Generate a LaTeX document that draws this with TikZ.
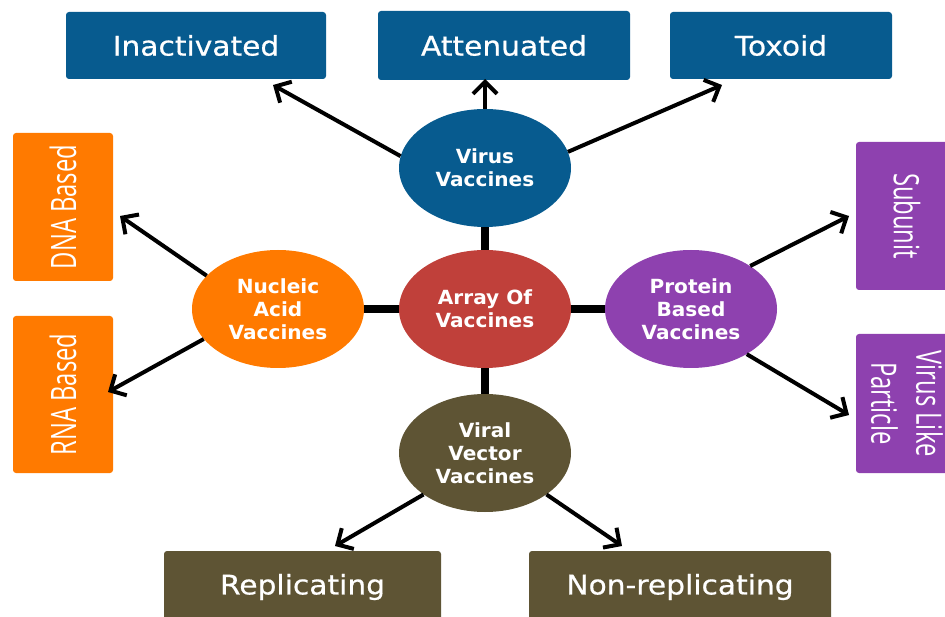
\documentclass[tikz,border=0pt]{standalone}
\usepackage{fontspec}
\setmainfont{DejaVu Sans}
\newfontfamily\boxfont[FakeStretch=1.1,FakeBold=0.6]{DejaVu Sans}
\newfontfamily\ellfont[FakeStretch=1.03]{DejaVu Sans}
\newfontfamily\rotfont[FakeStretch=0.68]{Open Sans}
\usetikzlibrary{shapes.geometric,arrows.meta}
\definecolor{vblue}{RGB}{7,91,143}
\definecolor{vorange}{RGB}{255,122,0}
\definecolor{vred}{RGB}{192,64,58}
\definecolor{vpurple}{RGB}{142,65,175}
\definecolor{volive}{RGB}{94,84,52}
\begin{document}
\begin{tikzpicture}[x=1pt,y=-1pt,
  rbox/.style={rounded corners=3pt, inner sep=0pt, text=white, align=center},
  hbox/.style={rbox, font=\boxfont\fontsize{27}{32}\selectfont},
  vbox/.style={rbox, font=\rotfont\fontsize{35}{45}\selectfont},
  ell/.style={ellipse, minimum width=172pt, minimum height=118pt, inner sep=0pt,
    text=white, align=center, font=\ellfont\bfseries\fontsize{19.5}{23}\selectfont},
  arr/.style={line width=4pt, -{Straight Barb[length=12pt,width=24pt]}},
  link/.style={line width=8pt}]
\useasboundingbox (0,0) rectangle (945,617);

% top boxes
\node[hbox, fill=vblue, minimum width=260pt, minimum height=67pt] (inact) at (196,45.5) {Inactivated};
\node[hbox, fill=vblue, minimum width=252pt, minimum height=69pt] (atten) at (504,45.5) {Attenuated};
\node[hbox, fill=vblue, minimum width=222pt, minimum height=67pt] (toxoid) at (781,45.5) {Toxoid};
% left boxes
\node[vbox, fill=vorange, rotate=90, minimum width=148pt, minimum height=100pt] (dna) at (63,207) {DNA Based};
\node[vbox, fill=vorange, rotate=90, minimum width=157pt, minimum height=100pt] (rna) at (63,394.5) {RNA Based};
% right boxes
\node[vbox, fill=vpurple, rotate=-90, minimum width=148pt, minimum height=102pt] (subunit) at (907,216) {Subunit};
\node[vbox, fill=vpurple, rotate=-90, minimum width=139pt, minimum height=102pt] (vlp) at (907,403.5) {Virus Like\\Particle};
% bottom boxes
\node[hbox, fill=volive, minimum width=277pt, minimum height=72pt] (repl) at (302.5,587) {Replicating};
\node[hbox, fill=volive, minimum width=302pt, minimum height=72pt] (nonrepl) at (680,587) {Non-replicating};

% ellipses
\node[ell, fill=vblue] (virus) at (485,168) {Virus\\Vaccines};
\node[ell, fill=vred] (array) at (485,309) {Array Of\\Vaccines};
\node[ell, fill=vorange] (nucleic) at (278,309) {Nucleic\\Acid\\Vaccines};
\node[ell, fill=vpurple] (protein) at (691,309) {Protein\\Based\\Vaccines};
\node[ell, fill=volive] (viral) at (485,453) {Viral\\Vector\\Vaccines};

% links
\draw[link] (array.north) -- (virus.south);
\draw[link] (array.west) -- (nucleic.east);
\draw[link] (array.east) -- (protein.west);
\draw[link] (array.south) -- (viral.north);

% arrow tips
\coordinate (tInact) at (273,85);
\coordinate (tAtten) at (485,79);
\coordinate (tToxoid) at (722,85);
\coordinate (tDna) at (120,216);
\coordinate (tRna) at (108,392);
\coordinate (tSub) at (849,216);
\coordinate (tVlp) at (849,415);
\coordinate (tRepl) at (335,546);
\coordinate (tNon) at (622,546);

\draw[arr] (virus.172) -- (tInact);
\draw[arr] (virus.north) -- (tAtten);
\draw[arr] (virus.11) -- (tToxoid);
\draw[arr] (nucleic.155) -- (tDna);
\draw[arr] (nucleic.202) -- (tRna);
\draw[arr] (protein.36) -- (tSub);
\draw[arr] (protein.-39) -- (tVlp);
\draw[arr] (viral.214) -- (tRepl);
\draw[arr] (viral.-34) -- (tNon);
\end{tikzpicture}
\end{document}
